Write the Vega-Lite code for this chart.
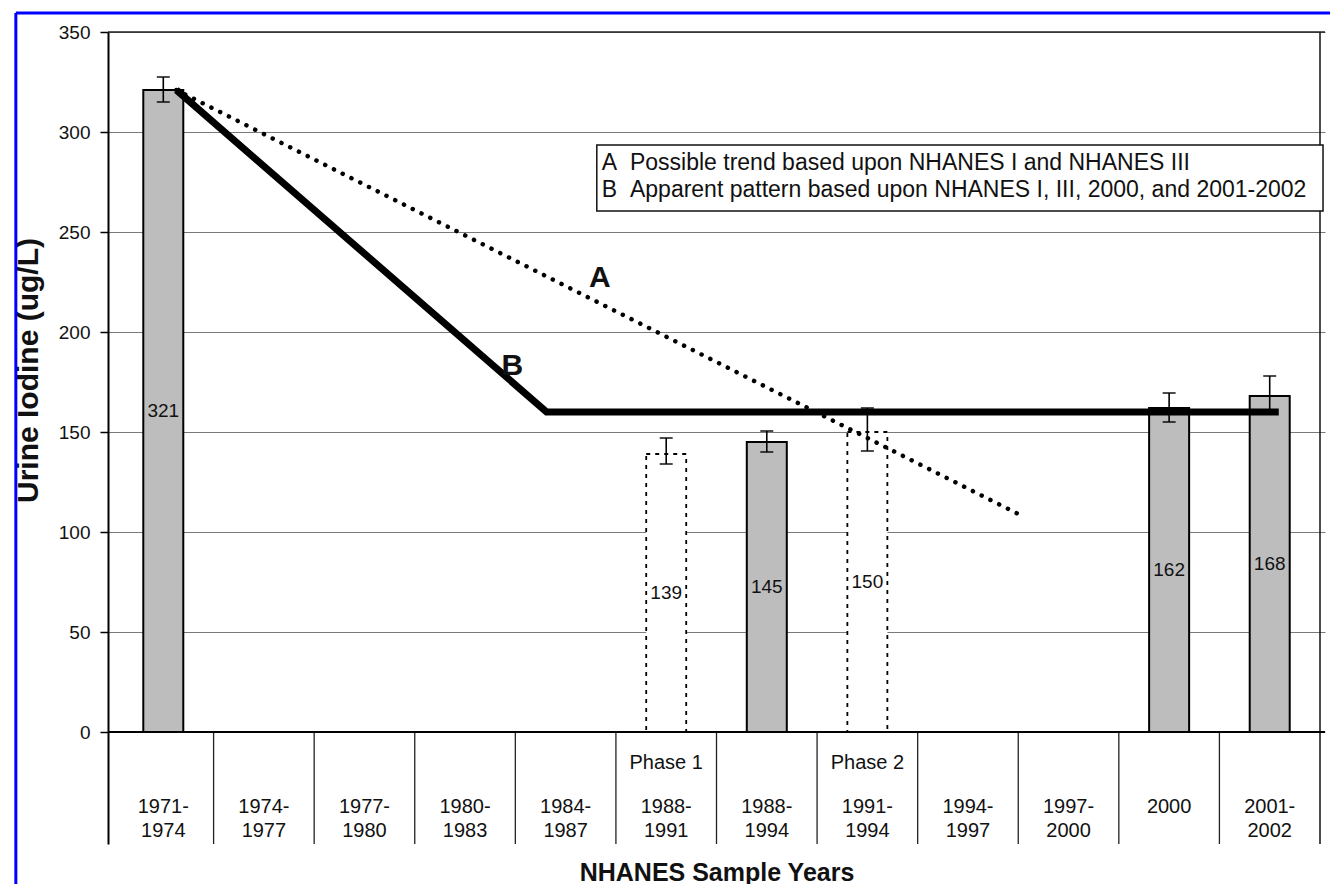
{
  "$schema": "https://vega.github.io/schema/vega-lite/v6.json",
  "width": 1217,
  "height": 812,
  "autosize": {"type": "none"},
  "padding": {"left": 108, "top": 32, "right": 8, "bottom": 40},
  "background": "white",
  "config": {
    "view": {"stroke": null},
    "font": "Liberation Sans",
    "axisX": {"labels": false, "ticks": false, "domain": false, "grid": false,
      "titleFontSize": 25, "titleFontWeight": "bold", "titleColor": "#111", "titleBaseline": "middle", "titleY": 28},
    "axisY": {"grid": true, "gridColor": "#7a7a7a", "gridWidth": 1,
      "domainColor": "#000", "domainWidth": 2, "tickColor": "#000", "tickSize": 8, "tickWidth": 1.5,
      "labelFontSize": 19, "labelColor": "#111", "labelPadding": 10,
      "titleFontSize": 30, "titleFontWeight": "bold", "titleColor": "#111",
      "titleX": -80, "titleY": 338, "titleBaseline": "middle", "titleAngle": 270}
  },
  "datasets": {
    "cats": [
      {"i": 0, "l1": "1971-", "l2": "1974", "v": 321, "lo": 315, "hi": 327.5, "k": "s"},
      {"i": 1, "l1": "1974-", "l2": "1977"},
      {"i": 2, "l1": "1977-", "l2": "1980"},
      {"i": 3, "l1": "1980-", "l2": "1983"},
      {"i": 4, "l1": "1984-", "l2": "1987"},
      {"i": 5, "l1": "1988-", "l2": "1991", "ph": "Phase 1", "v": 139, "lo": 134, "hi": 147, "k": "d"},
      {"i": 6, "l1": "1988-", "l2": "1994", "v": 145, "lo": 140, "hi": 150.5, "k": "s"},
      {"i": 7, "l1": "1991-", "l2": "1994", "ph": "Phase 2", "v": 150, "lo": 140.5, "hi": 162, "k": "d"},
      {"i": 8, "l1": "1994-", "l2": "1997"},
      {"i": 9, "l1": "1997-", "l2": "2000"},
      {"i": 10, "l1": "2000", "l2": "", "v": 162, "lo": 155, "hi": 169.5, "k": "s"},
      {"i": 11, "l1": "2001-", "l2": "2002", "v": 168, "lo": 159, "hi": 178, "k": "s"}
    ],
    "lineA": [{"x": 0.63, "y": 321}, {"x": 9.04, "y": 108}],
    "lineB": [{"x": 0.63, "y": 321}, {"x": 4.31, "y": 160}, {"x": 11.59, "y": 160}],
    "letters": [{"x": 4.84, "y": 227, "t": "A"}, {"x": 3.97, "y": 183, "t": "B"}],
    "legend": [
      {"t": "A\u00a0\u00a0Possible trend based upon NHANES I and NHANES III", "y": 284.5},
      {"t": "B\u00a0\u00a0Apparent pattern based upon NHANES I, III, 2000, and 2001-2002", "y": 271}
    ],
    "one": [{}]
  },
  "layer": [
    {
      "data": {"name": "cats"},
      "transform": [{"filter": "isValid(datum.v) && datum.k == 's'"}, {"calculate": "datum.i + 0.5", "as": "xc"}],
      "mark": {"type": "bar", "orient": "vertical", "width": 40, "fill": "#bdbdbd", "stroke": "#000", "strokeWidth": 2},
      "encoding": {
        "x": {"field": "xc", "type": "quantitative", "scale": {"domain": [0, 12], "nice": false, "zero": false},
          "axis": {"title": "NHANES Sample Years"}},
        "y": {"field": "v", "type": "quantitative", "scale": {"domain": [-56, 350], "nice": false, "zero": false},
          "axis": {"values": [0, 50, 100, 150, 200, 250, 300, 350], "title": "Urine Iodine (ug/L)"}},
        "y2": {"datum": 0}
      }
    },
    {
      "data": {"name": "cats"},
      "transform": [{"filter": "isValid(datum.v) && datum.k == 'd'"}, {"calculate": "datum.i + 0.5", "as": "xc"}],
      "mark": {"type": "bar", "orient": "vertical", "width": 40, "fill": "#fff", "stroke": "#000", "strokeWidth": 1.8, "strokeDash": [4, 5]},
      "encoding": {
        "x": {"field": "xc", "type": "quantitative", "scale": {"domain": [0, 12], "nice": false, "zero": false}},
        "y": {"field": "v", "type": "quantitative", "scale": {"domain": [-56, 350], "nice": false, "zero": false}},
        "y2": {"datum": 0}
      }
    },
    {
      "data": {"name": "cats"},
      "transform": [{"filter": "datum.i > 0"}],
      "mark": {"type": "rule", "color": "#222", "strokeWidth": 1.3},
      "encoding": {
        "x": {"field": "i", "type": "quantitative", "scale": {"domain": [0, 12], "nice": false, "zero": false}},
        "y": {"datum": -56, "scale": {"domain": [-56, 350], "nice": false, "zero": false}},
        "y2": {"datum": 0}
      }
    },
    {
      "data": {"name": "one"},
      "mark": {"type": "rule", "color": "#111", "strokeWidth": 1.5},
      "encoding": {
        "x": {"datum": 12, "scale": {"domain": [0, 12], "nice": false, "zero": false}},
        "y": {"datum": -56, "scale": {"domain": [-56, 350], "nice": false, "zero": false}},
        "y2": {"datum": 350}
      }
    },
    {
      "data": {"name": "one"},
      "mark": {"type": "rule", "color": "#222", "strokeWidth": 1.5},
      "encoding": {
        "y": {"datum": 350, "scale": {"domain": [-56, 350], "nice": false, "zero": false}}
      }
    },
    {
      "data": {"name": "one"},
      "mark": {"type": "rule", "color": "#000", "strokeWidth": 2},
      "encoding": {
        "y": {"datum": 0, "scale": {"domain": [-56, 350], "nice": false, "zero": false}}
      }
    },
    {
      "data": {"name": "cats"},
      "transform": [{"filter": "isValid(datum.v)"}, {"calculate": "datum.i + 0.5", "as": "xc"}],
      "mark": {"type": "rule", "color": "#000", "strokeWidth": 1.6},
      "encoding": {
        "x": {"field": "xc", "type": "quantitative", "scale": {"domain": [0, 12], "nice": false, "zero": false}},
        "y": {"field": "lo", "type": "quantitative", "scale": {"domain": [-56, 350], "nice": false, "zero": false}},
        "y2": {"field": "hi"}
      }
    },
    {
      "data": {"name": "cats"},
      "transform": [{"filter": "isValid(datum.v)"}, {"calculate": "datum.i + 0.5", "as": "xc"}, {"fold": ["lo", "hi"], "as": ["end", "ev"]}],
      "mark": {"type": "tick", "orient": "horizontal", "size": 13, "thickness": 2, "color": "#000"},
      "encoding": {
        "x": {"field": "xc", "type": "quantitative", "scale": {"domain": [0, 12], "nice": false, "zero": false}},
        "y": {"field": "ev", "type": "quantitative", "scale": {"domain": [-56, 350], "nice": false, "zero": false}}
      }
    },
    {
      "data": {"name": "cats"},
      "transform": [{"filter": "isValid(datum.v)"}, {"calculate": "datum.i + 0.5", "as": "xc"}, {"calculate": "datum.v / 2", "as": "mid"}],
      "mark": {"type": "text", "fontSize": 19, "color": "#111", "baseline": "middle", "align": "center"},
      "encoding": {
        "x": {"field": "xc", "type": "quantitative", "scale": {"domain": [0, 12], "nice": false, "zero": false}},
        "y": {"field": "mid", "type": "quantitative", "scale": {"domain": [-56, 350], "nice": false, "zero": false}},
        "text": {"field": "v", "type": "quantitative", "format": "d"}
      }
    },
    {
      "data": {"name": "lineA"},
      "mark": {"type": "line", "color": "#000", "strokeWidth": 4.5, "strokeDash": [0.1, 9.7], "strokeCap": "round"},
      "encoding": {
        "x": {"field": "x", "type": "quantitative", "scale": {"domain": [0, 12], "nice": false, "zero": false}},
        "y": {"field": "y", "type": "quantitative", "scale": {"domain": [-56, 350], "nice": false, "zero": false}}
      }
    },
    {
      "data": {"name": "lineB"},
      "mark": {"type": "line", "color": "#000", "strokeWidth": 7, "strokeJoin": "miter"},
      "encoding": {
        "x": {"field": "x", "type": "quantitative", "scale": {"domain": [0, 12], "nice": false, "zero": false}},
        "y": {"field": "y", "type": "quantitative", "scale": {"domain": [-56, 350], "nice": false, "zero": false}}
      }
    },
    {
      "data": {"name": "letters"},
      "mark": {"type": "text", "fontSize": 30, "fontWeight": "bold", "color": "#111", "baseline": "middle", "align": "center"},
      "encoding": {
        "x": {"field": "x", "type": "quantitative", "scale": {"domain": [0, 12], "nice": false, "zero": false}},
        "y": {"field": "y", "type": "quantitative", "scale": {"domain": [-56, 350], "nice": false, "zero": false}},
        "text": {"field": "t"}
      }
    },
    {
      "data": {"name": "one"},
      "mark": {"type": "rect", "fill": "#fff", "stroke": "#111", "strokeWidth": 1.5},
      "encoding": {
        "x": {"datum": 4.81, "scale": {"domain": [0, 12], "nice": false, "zero": false}},
        "x2": {"datum": 12.03},
        "y": {"datum": 293.5, "scale": {"domain": [-56, 350], "nice": false, "zero": false}},
        "y2": {"datum": 260.5}
      }
    },
    {
      "data": {"name": "legend"},
      "mark": {"type": "text", "fontSize": 23, "color": "#111", "baseline": "middle", "align": "left"},
      "encoding": {
        "x": {"datum": 4.86, "scale": {"domain": [0, 12], "nice": false, "zero": false}},
        "y": {"field": "y", "type": "quantitative", "scale": {"domain": [-56, 350], "nice": false, "zero": false}},
        "text": {"field": "t"}
      }
    },
    {
      "data": {"name": "cats"},
      "transform": [{"calculate": "datum.i + 0.5", "as": "xc"}],
      "mark": {"type": "text", "fontSize": 20, "color": "#111", "baseline": "middle", "align": "center"},
      "encoding": {
        "x": {"field": "xc", "type": "quantitative", "scale": {"domain": [0, 12], "nice": false, "zero": false}},
        "y": {"datum": -37.5, "scale": {"domain": [-56, 350], "nice": false, "zero": false}},
        "text": {"field": "l1"}
      }
    },
    {
      "data": {"name": "cats"},
      "transform": [{"calculate": "datum.i + 0.5", "as": "xc"}],
      "mark": {"type": "text", "fontSize": 20, "color": "#111", "baseline": "middle", "align": "center"},
      "encoding": {
        "x": {"field": "xc", "type": "quantitative", "scale": {"domain": [0, 12], "nice": false, "zero": false}},
        "y": {"datum": -49.5, "scale": {"domain": [-56, 350], "nice": false, "zero": false}},
        "text": {"field": "l2"}
      }
    },
    {
      "data": {"name": "cats"},
      "transform": [{"filter": "isValid(datum.ph)"}, {"calculate": "datum.i + 0.5", "as": "xc"}],
      "mark": {"type": "text", "fontSize": 20, "color": "#111", "baseline": "middle", "align": "center"},
      "encoding": {
        "x": {"field": "xc", "type": "quantitative", "scale": {"domain": [0, 12], "nice": false, "zero": false}},
        "y": {"datum": -15.5, "scale": {"domain": [-56, 350], "nice": false, "zero": false}},
        "text": {"field": "ph"}
      }
    },
    {
      "data": {"name": "one"},
      "mark": {"type": "rule", "color": "#0000ff", "strokeWidth": 3},
      "encoding": {
        "x": {"datum": -0.966, "scale": {"domain": [0, 12], "nice": false, "zero": false}},
        "x2": {"datum": 12.1},
        "y": {"datum": 359.5, "scale": {"domain": [-56, 350], "nice": false, "zero": false}}
      }
    },
    {
      "data": {"name": "one"},
      "mark": {"type": "rule", "color": "#0000ff", "strokeWidth": 3},
      "encoding": {
        "x": {"datum": -0.966, "scale": {"domain": [0, 12], "nice": false, "zero": false}},
        "y": {"datum": 359.5, "scale": {"domain": [-56, 350], "nice": false, "zero": false}},
        "y2": {"datum": -80}
      }
    }
  ]
}
